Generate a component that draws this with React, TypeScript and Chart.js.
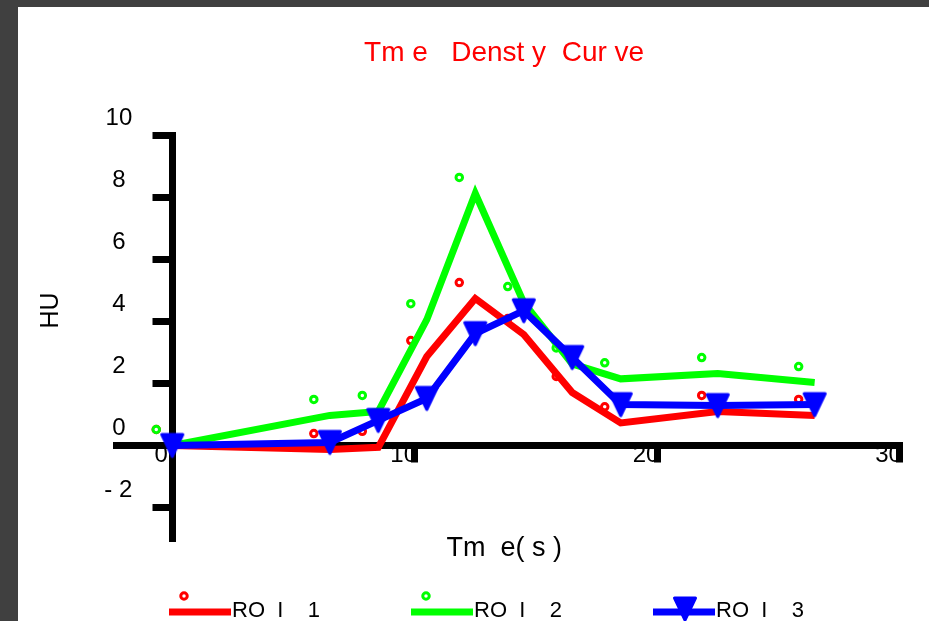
import React, { useEffect, useRef } from 'react';
import { Chart, registerables } from 'chart.js';

Chart.register(...registerables);

// ---- data ----
const timeValues = [0, 6.5, 8.5, 10.5, 12.5, 14.5, 16.5, 18.5, 22.5, 26.5];
const roi1Values = [0, -0.13, -0.06, 2.87, 4.74, 3.58, 1.71, 0.73, 1.1, 0.97];
const roi2Values = [0, 0.97, 1.1, 4.06, 8.13, 4.61, 2.63, 2.15, 2.32, 2.03];
const roi3Values = [0, 0.1, 0.81, 1.52, 3.61, 4.35, 2.84, 1.32, 1.29, 1.32];
const seriesLabels = ['RO  I    1', 'RO  I    2', 'RO  I    3'];
const xTickValues = [0, 10, 20, 30];
const yTickValues = [-2, 0, 2, 4, 6, 8, 10];
const yTickLabels = ['- 2', '0', '2', '4', '6', '8', '10'];
const chartTitle = 'Tm e   Denst y  Cur ve ';
const xAxisTitle = 'Tm  e( s ) ';
const yAxisTitle = 'HU';

const RED = '#ff0000';
const GREEN = '#00ff00';
const BLUE = '#0000ff';
const FONT = '"Liberation Sans", Arial, Helvetica, sans-serif';
const MARKER_SHIFT = -16;

const toXY = (vals: number[]) => timeValues.map((x, i) => ({ x, y: vals[i] }));

// right-aligned tick text padded so the labels sit centred left of the tick marks
const padYLabel = (s: string) => s + ' '.repeat(s.length === 1 ? 7 : 6);

function makeTriangle(color: string): HTMLCanvasElement {
  const c = document.createElement('canvas');
  c.width = 28;
  c.height = 28;
  const g = c.getContext('2d')!;
  g.beginPath();
  g.moveTo(3.5, 3);
  g.lineTo(24.5, 3);
  g.lineTo(14, 25);
  g.closePath();
  g.fillStyle = color;
  g.fill();
  g.lineWidth = 3;
  g.lineJoin = 'round';
  g.strokeStyle = color;
  g.stroke();
  return c;
}

const markerShiftPlugin = {
  id: 'markerShift',
  beforeDatasetDraw(chart: any, args: any) {
    const ds = chart.data.datasets[args.index];
    if (ds.markerShift) {
      chart.ctx.save();
      chart.ctx.translate(MARKER_SHIFT, MARKER_SHIFT);
    }
  },
  afterDatasetDraw(chart: any, args: any) {
    const ds = chart.data.datasets[args.index];
    if (ds.markerShift) chart.ctx.restore();
  },
};

function drawCircle(ctx: CanvasRenderingContext2D, x: number, y: number, color: string) {
  ctx.beginPath();
  ctx.arc(x, y, 3.25, 0, Math.PI * 2);
  ctx.fillStyle = '#ffffff';
  ctx.fill();
  ctx.lineWidth = 3;
  ctx.strokeStyle = color;
  ctx.stroke();
}

function makeAnnotationPlugin(tri: HTMLCanvasElement) {
  return {
    id: 'customLegendAndYTitle',
    afterDraw(chart: any) {
      const ctx: CanvasRenderingContext2D = chart.ctx;
      // y axis title
      ctx.save();
      ctx.translate(33.5, 303.5);
      ctx.rotate(-Math.PI / 2);
      ctx.font = `25px ${FONT}`;
      ctx.fillStyle = '#000';
      ctx.textAlign = 'center';
      ctx.textBaseline = 'middle';
      ctx.fillText(yAxisTitle, 0, 0);
      ctx.restore();

      // legend
      const colors = [RED, GREEN, BLUE];
      ctx.save();
      for (let i = 0; i < 3; i++) {
        const x0 = 151 + 242 * i;
        const yLine = 605;
        ctx.beginPath();
        ctx.moveTo(x0, yLine);
        ctx.lineTo(x0 + 62, yLine);
        ctx.lineWidth = 7;
        ctx.strokeStyle = colors[i];
        ctx.stroke();
        if (i < 2) {
          drawCircle(ctx, x0 + 31 + MARKER_SHIFT, yLine + MARKER_SHIFT, colors[i]);
        } else {
          ctx.drawImage(tri, x0 + 32 - tri.width / 2, 602 - tri.height / 2);
        }
        ctx.font = `22px ${FONT}`;
        ctx.fillStyle = '#000';
        ctx.textAlign = 'left';
        ctx.textBaseline = 'alphabetic';
        ctx.fillText(seriesLabels[i], x0 + 63, 610);
      }
      ctx.restore();
    },
  };
}

export default function App() {
  const ref = useRef<HTMLCanvasElement>(null);

  useEffect(() => {
    if (!ref.current) return;
    Chart.defaults.font.family = FONT;
    const tri = makeTriangle(BLUE);
    const chart = new Chart(ref.current, {
      type: 'line',
      data: {
        datasets: [
          {
            label: seriesLabels[2],
            data: toXY(roi3Values),
            borderColor: BLUE,
            backgroundColor: BLUE,
            borderWidth: 7,
            tension: 0,
            pointStyle: tri as any,
            pointRadius: 12,
            order: 0,
            clip: false,
          },
          {
            label: seriesLabels[1],
            data: toXY(roi2Values),
            borderColor: GREEN,
            backgroundColor: GREEN,
            borderWidth: 7,
            tension: 0,
            pointRadius: 0,
            order: 1,
            clip: false,
          },
          {
            label: seriesLabels[0],
            data: toXY(roi1Values),
            borderColor: RED,
            backgroundColor: RED,
            borderWidth: 7,
            tension: 0,
            pointRadius: 0,
            order: 2,
            clip: false,
          },
          {
            label: seriesLabels[1] + ' markers',
            data: toXY(roi2Values),
            showLine: false,
            pointStyle: 'circle',
            pointRadius: 3.25,
            pointBorderWidth: 3,
            pointBackgroundColor: '#ffffff',
            pointBorderColor: GREEN,
            order: 3,
            clip: false,
            markerShift: true,
          } as any,
          {
            label: seriesLabels[0] + ' markers',
            data: toXY(roi1Values),
            showLine: false,
            pointStyle: 'circle',
            pointRadius: 3.25,
            pointBorderWidth: 3,
            pointBackgroundColor: '#ffffff',
            pointBorderColor: RED,
            order: 4,
            clip: false,
            markerShift: true,
          } as any,
        ],
      },
      options: {
        responsive: false,
        maintainAspectRatio: false,
        devicePixelRatio: 1,
        animation: false,
        events: [],
        layout: { padding: { left: 98.5, right: 29.5, top: 0, bottom: 82.5 } },
        plugins: {
          legend: { display: false },
          tooltip: { enabled: false },
          title: {
            display: true,
            text: chartTitle,
            color: RED,
            font: { size: 28, weight: 'normal', family: FONT },
            padding: { top: 29.7, bottom: 65.2 },
          },
        },
        scales: {
          x: {
            type: 'linear',
            min: -2.3,
            max: 30,
            position: { y: 0 } as any,
            afterBuildTicks: (s: any) => {
              s.ticks = xTickValues.map((v) => ({ value: v }));
            },
            ticks: {
              labelOffset: -11,
              padding: -18,
              color: '#000',
              font: { size: 24 },
              maxRotation: 0,
              autoSkip: false,
              callback: (v: any) => String(v),
            },
            grid: {
              drawOnChartArea: false,
              drawTicks: true,
              tickLength: 13.5,
              lineWidth: 7,
              color: '#000',
            },
            border: { display: true, width: 7, color: '#000' },
            title: {
              display: true,
              text: xAxisTitle,
              color: '#000',
              font: { size: 27 },
              padding: { top: 80.5, bottom: 0 },
            },
          },
          y: {
            type: 'linear',
            min: -3,
            max: 10,
            position: { x: 0 } as any,
            afterBuildTicks: (s: any) => {
              s.ticks = yTickValues.map((v) => ({ value: v }));
            },
            ticks: {
              labelOffset: -17,
              padding: 24,
              color: '#000',
              font: { size: 24 },
              autoSkip: false,
              callback: (_v: any, i: number) => padYLabel(yTickLabels[i]),
            },
            grid: {
              drawOnChartArea: false,
              drawTicks: true,
              tickLength: 16.5,
              lineWidth: 7,
              color: '#000',
            },
            border: { display: true, width: 7, color: '#000' },
          },
        },
      },
      plugins: [markerShiftPlugin, makeAnnotationPlugin(tri)],
    });
    return () => chart.destroy();
  }, []);

  return (
    <div
      style={{
        position: 'fixed',
        left: 0,
        top: 0,
        width: 929,
        height: 621,
        background: '#404040',
        overflow: 'hidden',
      }}
    >
      <div style={{ position: 'absolute', left: 18, top: 7, width: 911, height: 614, background: '#ffffff' }}>
        <canvas ref={ref} width={911} height={614} style={{ display: 'block', width: 911, height: 614 }} />
      </div>
    </div>
  );
}
